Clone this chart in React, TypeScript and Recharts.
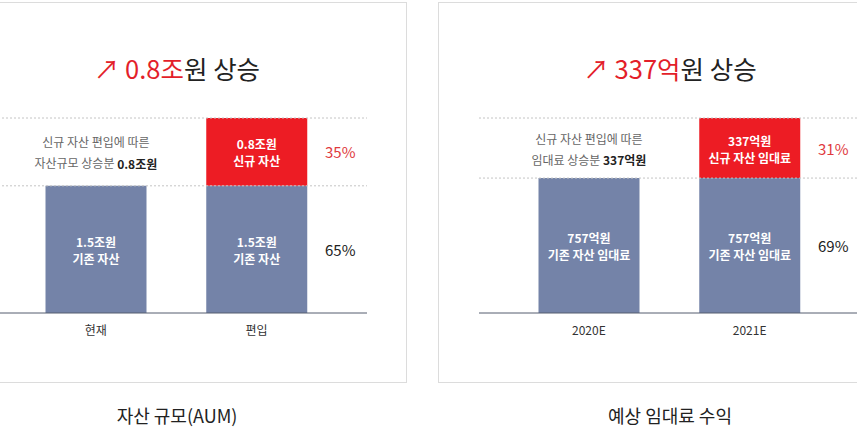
import { BarChart, Bar, XAxis, YAxis, ReferenceLine, ReferenceArea, LabelList } from 'recharts';

// 자산 규모(AUM), 조원
const aumCategories = ['현재', '편입'];
const aumBase = [1.5, 1.5];
const aumAdded = [0, 0.8];
const aumBaseText = ['1.5조원', '기존 자산'];
const aumAddedText = ['0.8조원', '신규 자산'];
const aumPercents = ['65%', '35%'];

// 예상 임대료 수익, 억원
const rentCategories = ['2020E', '2021E'];
const rentBase = [757, 757];
const rentAdded = [0, 337];
const rentBaseText = ['757억원', '기존 자산 임대료'];
const rentAddedText = ['337억원', '신규 자산 임대료'];
const rentPercents = ['69%', '31%'];

const FONT = '"Noto Sans CJK KR", "Noto Sans", sans-serif';
const RED = '#ed1c24';
const BLUE = '#7483a8';

interface PanelProps {
  offset: number;
  categories: string[];
  base: number[];
  added: number[];
  baseText: string[];
  addedText: string[];
  percents: string[];
  noteTop: string;
  notePrefix: string;
  noteBold: string;
  titleRed: string;
  caption: string;
}

function vb(props: any) {
  const v = props.viewBox && props.viewBox.width !== undefined ? props.viewBox : props;
  return { x: Number(v.x), y: Number(v.y), width: Number(v.width), height: Number(v.height) };
}

function Panel(p: PanelProps) {
  const data = p.categories.map((c, i) => ({ name: c, base: p.base[i], added: p.added[i] }));
  const total = p.base[1] + p.added[1];

  const baseLabel = (props: any) => {
    const { x, y, width, height } = vb(props);
    const cx = x + width / 2;
    const cy = y + height / 2;
    return (
      <g key={`b${props.index}`}>
        <text x={cx} y={cy - 8} textAnchor="middle" dominantBaseline="central" fill="#fff" fontSize={12} fontWeight={700} fontFamily={FONT}>
          {p.baseText[0]}
        </text>
        <text x={cx} y={cy + 9} textAnchor="middle" dominantBaseline="central" fill="#fff" fontSize={12} fontWeight={700} fontFamily={FONT}>
          {p.baseText[1]}
        </text>
        {props.index === 1 && (
          <text x={x + width + 33} y={cy} textAnchor="middle" dominantBaseline="central" fill="#222" fontSize={15} fontFamily={FONT}>
            {p.percents[0]}
          </text>
        )}
      </g>
    );
  };

  const addedLabel = (props: any) => {
    if (!props.value) return null;
    const { x, y, width, height } = vb(props);
    const cx = x + width / 2;
    const cy = y + height / 2;
    return (
      <g key={`a${props.index}`}>
        <text x={cx} y={cy - 8} textAnchor="middle" dominantBaseline="central" fill="#fff" fontSize={12} fontWeight={700} fontFamily={FONT}>
          {p.addedText[0]}
        </text>
        <text x={cx} y={cy + 9} textAnchor="middle" dominantBaseline="central" fill="#fff" fontSize={12} fontWeight={700} fontFamily={FONT}>
          {p.addedText[1]}
        </text>
        <text x={x + width + 33} y={cy} textAnchor="middle" dominantBaseline="central" fill="#e03a3e" fontSize={15} fontFamily={FONT}>
          {p.percents[1]}
        </text>
      </g>
    );
  };

  const noteLabel = (props: any) => {
    const { x, y, width, height } = vb(props);
    const cx = x + width / 2;
    const cy = y + height / 2;
    return (
      <g>
        <text x={cx} y={cy - 10} textAnchor="middle" dominantBaseline="central" fill="#666" fontSize={12} fontFamily={FONT}>
          {p.noteTop}
        </text>
        <text x={cx} y={cy + 11} textAnchor="middle" dominantBaseline="central" fill="#666" fontSize={12} fontFamily={FONT}>
          {p.notePrefix}
          <tspan fill="#222" fontWeight={700}>{p.noteBold}</tspan>
        </text>
      </g>
    );
  };

  return (
    <>
      <div
        style={{
          position: 'absolute',
          left: p.offset - 55,
          top: 2,
          width: 460,
          height: 379,
          border: '1px solid #dcdcdc',
          background: '#fff',
        }}
      />
      <div
        style={{
          position: 'absolute',
          left: p.offset + 27,
          width: 300,
          top: 49,
          textAlign: 'center',
          fontFamily: FONT,
          fontSize: 25.5,
          lineHeight: '38px',
          color: '#222',
          whiteSpace: 'nowrap',
        }}
      >
        <span style={{ color: '#e31e2a' }}>{'↗ ' + p.titleRed}</span>원 상승
      </div>
      <div style={{ position: 'absolute', left: p.offset - 14, top: 100 }}>
        <BarChart width={414} height={250} data={data} margin={{ top: 18, right: 33, left: 0, bottom: 7 }}>
          <XAxis
            dataKey="name"
            padding={{ left: 29.5, right: 30 }}
            axisLine={{ stroke: '#555d6e', strokeWidth: 1 }}
            tickLine={false}
            tickMargin={7}
            tick={{ fill: '#333', fontSize: 12, fontFamily: FONT }}
          />
          <YAxis hide domain={[0, total]} />
          <ReferenceLine y={p.base[1]} stroke="#c4c4c4" strokeDasharray="2 2" />
          <ReferenceLine y={total} stroke="#c4c4c4" strokeDasharray="2 2" />
          <Bar dataKey="base" stackId="s" fill={BLUE} barSize={101} isAnimationActive={false}>
            <LabelList dataKey="base" content={baseLabel} />
          </Bar>
          <Bar dataKey="added" stackId="s" fill={RED} barSize={101} isAnimationActive={false}>
            <LabelList dataKey="added" content={addedLabel} />
          </Bar>
          <ReferenceArea
            x1={p.categories[0]}
            x2={p.categories[0]}
            y1={p.base[1]}
            y2={total}
            fillOpacity={0}
            strokeOpacity={0}
            label={noteLabel}
          />
        </BarChart>
      </div>
      <div
        style={{
          position: 'absolute',
          left: p.offset + 27,
          width: 300,
          top: 402,
          textAlign: 'center',
          fontFamily: FONT,
          fontSize: 18,
          lineHeight: '26px',
          color: '#222',
        }}
      >
        {p.caption}
      </div>
    </>
  );
}

export default function App() {
  return (
    <div
      style={{
        position: 'absolute',
        left: 0,
        top: 0,
        width: 857,
        height: 438,
        overflow: 'hidden',
        background: '#fff',
      }}
    >
      <Panel
        offset={0}
        categories={aumCategories}
        base={aumBase}
        added={aumAdded}
        baseText={aumBaseText}
        addedText={aumAddedText}
        percents={aumPercents}
        noteTop="신규 자산 편입에 따른"
        notePrefix="자산규모 상승분 "
        noteBold="0.8조원"
        titleRed="0.8조"
        caption="자산 규모(AUM)"
      />
      <Panel
        offset={493}
        categories={rentCategories}
        base={rentBase}
        added={rentAdded}
        baseText={rentBaseText}
        addedText={rentAddedText}
        percents={rentPercents}
        noteTop="신규 자산 편입에 따른"
        notePrefix="임대료 상승분 "
        noteBold="337억원"
        titleRed="337억"
        caption="예상 임대료 수익"
      />
    </div>
  );
}
